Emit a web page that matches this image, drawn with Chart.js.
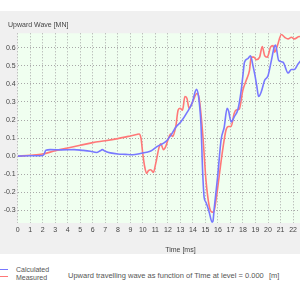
<!DOCTYPE html>
<html>
<head>
<meta charset="utf-8">
<script src="https://cdn.jsdelivr.net/npm/chart.js@4/dist/chart.umd.min.js"></script>
<style>
  html, body { margin: 0; padding: 0; width: 300px; height: 287px; overflow: hidden; background: #ffffff; }
  #panel { position: absolute; left: 0; top: 11px; width: 300px; height: 243px; background: #f0f0f0; overflow: hidden; }
  #wrap { position: absolute; left: 0; top: 0; width: 350px; height: 243px; }
  .leg { position: absolute; font-family: 'Liberation Sans Narrow', 'Liberation Sans', sans-serif; font-size: 7px; color: #555; white-space: nowrap; line-height: 8px; }
  .sw { position: absolute; left: 0; width: 8px; height: 1.5px; }
</style>
</head>
<body>
<div id="panel"><div id="wrap"><canvas id="c" width="350" height="243"></canvas></div></div>
<div class="sw" style="top:268.5px; background:#7878ff;"></div>
<div class="sw" style="top:275.5px; background:#ff7878;"></div>
<div class="leg" style="left:16px; top:265.5px;">Calculated</div>
<div class="leg" style="left:16px; top:274px;">Measured</div>
<div class="leg" id="cap" style="left:68px; top:271.5px; font-size:7.5px;">Upward travelling wave as function of Time at level = 0.000</div>
<div class="leg" style="left:269px; top:271.5px; font-size:7.5px;">[m]</div>
<script>
// ---- data ----
const calcTime = [0, 1, 2, 2.1, 2.25, 2.6, 3.5, 4.5, 5.2, 5.8, 6.3, 6.6, 6.75, 7.0, 7.4, 8.0, 8.6, 9.2, 9.8, 10.3, 10.63, 11.16, 11.83, 12.23, 12.63, 13.04, 13.57, 13.97, 14.15, 14.28, 14.45, 14.64, 14.78, 14.9, 15.04, 15.3, 15.53, 15.6, 15.7, 15.98, 16.25, 16.5, 16.73, 16.85, 17.05, 17.32, 17.6, 17.85, 18.0, 18.12, 18.39, 18.6, 18.8, 18.95, 19.1, 19.25, 19.46, 19.73, 20.0, 20.27, 20.48, 20.6, 20.85, 21.2, 21.6, 21.87, 22.1, 22.4, 22.7, 23.0];
const calcValues = [0, 0.002, 0.004, 0.01, 0.033, 0.036, 0.035, 0.036, 0.032, 0.027, 0.02, 0.03, 0.036, 0.027, 0.018, 0.012, 0.01, 0.008, 0.015, 0.022, 0.028, 0.054, 0.08, 0.115, 0.16, 0.19, 0.246, 0.30, 0.35, 0.37, 0.33, 0.18, -0.09, -0.23, -0.255, -0.31, -0.365, -0.36, -0.29, -0.11, 0.09, 0.16, 0.265, 0.25, 0.19, 0.22, 0.26, 0.36, 0.45, 0.52, 0.54, 0.555, 0.5, 0.45, 0.39, 0.33, 0.356, 0.42, 0.445, 0.53, 0.60, 0.615, 0.53, 0.52, 0.46, 0.48, 0.48, 0.51, 0.535, 0.55];
const measTime = [0, 1, 2, 3, 4, 5, 6, 7, 8, 9, 9.5, 9.7, 9.85, 10.0, 10.15, 10.3, 10.45, 10.63, 10.84, 11.03, 11.3, 11.43, 11.65, 11.83, 12.1, 12.23, 12.37, 12.63, 12.82, 12.98, 13.17, 13.36, 13.52, 13.7, 13.97, 14.32, 14.5, 14.78, 15.04, 15.3, 15.53, 15.66, 15.85, 16.1, 16.38, 16.65, 16.84, 17.05, 17.3, 17.45, 17.7, 17.99, 18.26, 18.52, 18.66, 18.87, 19.06, 19.33, 19.54, 19.73, 19.94, 20.2, 20.4, 20.53, 20.75, 21.07, 21.33, 21.6, 21.87, 22.1, 22.5, 22.8];
const measValues = [0, 0.005, 0.012, 0.03, 0.045, 0.06, 0.075, 0.085, 0.097, 0.112, 0.12, 0.123, 0.1, 0.01, -0.06, -0.095, -0.08, -0.075, -0.09, -0.04, 0.05, 0.068, 0.036, 0.054, 0.109, 0.124, 0.109, 0.164, 0.255, 0.265, 0.255, 0.33, 0.32, 0.265, 0.30, 0.347, 0.32, 0.127, -0.13, -0.276, -0.31, -0.31, -0.24, -0.11, 0.036, 0.146, 0.164, 0.164, 0.237, 0.255, 0.26, 0.365, 0.42, 0.475, 0.548, 0.548, 0.534, 0.548, 0.607, 0.557, 0.548, 0.603, 0.612, 0.576, 0.612, 0.673, 0.658, 0.649, 0.658, 0.649, 0.662, 0.655];
const seriesNames = ['Calculated', 'Measured'];
const yTitle = 'Upward Wave [MN]';
const xTitle = 'Time [ms]';

const toPts = (t, v) => t.map((x, i) => ({ x: x, y: v[i] }));

const bgPlugin = {
  id: 'plotBg',
  beforeDraw(chart) {
    const a = chart.chartArea, ctx = chart.ctx;
    ctx.save();
    ctx.fillStyle = '#f0fff0';
    ctx.fillRect(a.left, a.top, a.right - a.left, a.bottom - a.top);
    ctx.restore();
  },
  afterDraw(chart) {
    const ctx = chart.ctx;
    ctx.save();
    ctx.font = "7px 'Liberation Sans Narrow', 'Liberation Sans', sans-serif";
    ctx.fillStyle = '#444';
    ctx.textBaseline = 'middle';
    ctx.fillText(yTitle, 8, 14);
    ctx.restore();
  }
};

const tickFont = { family: "'Liberation Sans Narrow', 'Liberation Sans', sans-serif", size: 7 };
const grid = { color: '#a8a8a8', lineWidth: 1, drawTicks: false };

new Chart(document.getElementById('c'), {
  type: 'line',
  data: {
    datasets: [
      { label: seriesNames[0], data: toPts(calcTime, calcValues), borderColor: '#7878ff', borderWidth: 1.6, pointRadius: 0, fill: false, cubicInterpolationMode: 'monotone' },
      { label: seriesNames[1], data: toPts(measTime, measValues), borderColor: '#ff7878', borderWidth: 1.6, pointRadius: 0, fill: false, cubicInterpolationMode: 'monotone' }
    ]
  },
  options: {
    responsive: false,
    animation: false,
    devicePixelRatio: 1,
    layout: { padding: { top: 22.3, right: 0, left: 0, bottom: 0 } },
    plugins: { legend: { display: false }, tooltip: { enabled: false }, title: { display: false } },
    scales: {
      x: {
        type: 'linear', min: 0, max: 26,
        grid: grid,
        border: { display: false, dash: [1, 2] },
        ticks: { stepSize: 1, autoSkip: false, maxRotation: 0, font: tickFont, color: '#444', padding: 3 },
        title: { display: true, text: xTitle, font: tickFont, color: '#444', padding: { top: 2, bottom: 0 } },
        afterFit(s) { s.height = 31; }
      },
      y: {
        type: 'linear', min: -0.37, max: 0.68,
        grid: grid,
        border: { display: false, dash: [1, 2] },
        afterBuildTicks(s) { s.ticks = s.ticks.filter(t => Math.abs(t.value * 10 - Math.round(t.value * 10)) < 1e-6); },
        ticks: { stepSize: 0.1, font: tickFont, color: '#444', padding: 2, callback: v => Number(v).toFixed(1) },
        afterFit(s) { s.width = 17.7; }
      }
    }
  },
  plugins: [bgPlugin]
});
</script>
</body>
</html>
